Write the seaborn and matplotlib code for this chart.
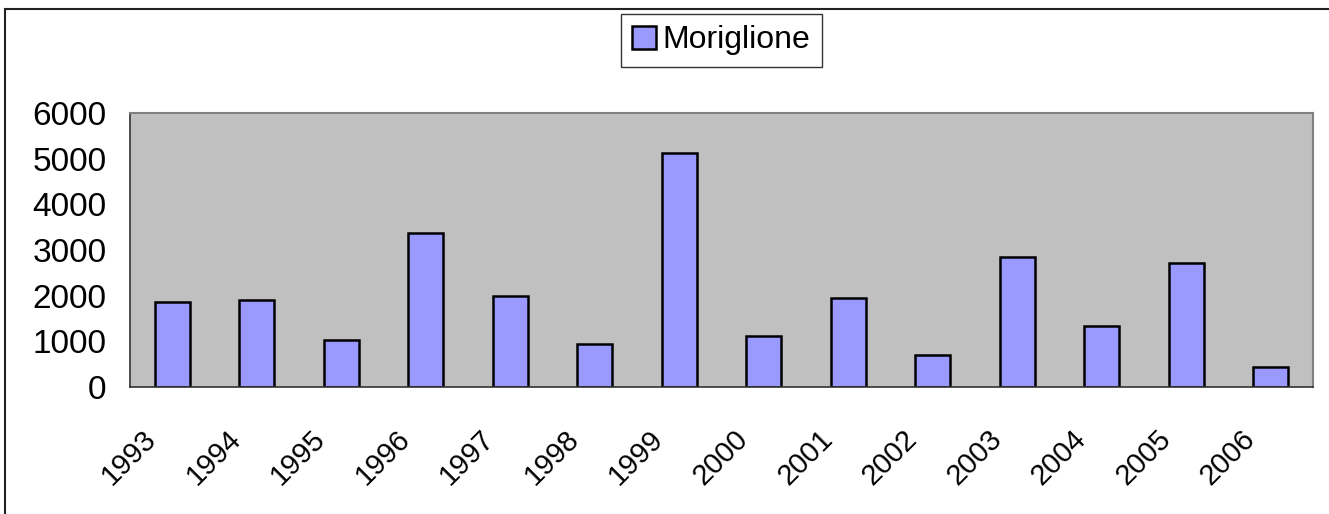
import numpy as np
import pandas as pd
import seaborn as sns
import matplotlib.pyplot as plt
import matplotlib.transforms as mtransforms
from matplotlib.patches import Rectangle

# Data
years = ["1993", "1994", "1995", "1996", "1997", "1998", "1999",
         "2000", "2001", "2002", "2003", "2004", "2005", "2006"]
values = [1860, 1905, 1035, 3365, 1990, 940, 5135,
          1120, 1950, 700, 2845, 1335, 2720, 440]
series_name = "Moriglione"

sns.set_style("white")
plt.rcParams["font.family"] = ["Liberation Sans", "DejaVu Sans"]
plt.rcParams["text.color"] = "black"
plt.rcParams["xtick.labelcolor"] = "black"
plt.rcParams["ytick.labelcolor"] = "black"

df = pd.DataFrame({"year": years, "value": values})

fig = plt.figure(figsize=(13.29, 5.14), dpi=100)
ax = fig.add_axes([0.0978, 0.247, 0.8902, 0.533])

sns.barplot(data=df, x="year", y="value", color="#9999FF", saturation=1,
            edgecolor="black", linewidth=1.8, width=0.41, label=series_name, ax=ax)

ax.set_facecolor("#C0C0C0")
ax.set_xlim(-0.5, len(years) - 0.5)
ax.set_ylim(0, 6000)
ax.set_yticks(np.arange(0, 6001, 1000))
ax.set_xlabel("")
ax.set_ylabel("")

# tick marks at category boundaries, labels at centres
ax.set_xticks(np.arange(-0.5, len(years), 1), minor=True)
ax.tick_params(axis="x", which="minor", direction="out", length=10, width=1, color="#333333")
ax.tick_params(axis="x", which="major", length=0, pad=20, labelsize=21, labelcolor="black")
ax.tick_params(axis="y", direction="out", length=12, width=1, color="#333333",
               labelsize=24, pad=5, labelcolor="black")
shift = mtransforms.ScaledTranslation(-0.30, -0.10, fig.dpi_scale_trans)
for lab in ax.get_xticklabels():
    lab.set_rotation(45)
    lab.set_ha("right")
    lab.set_rotation_mode("anchor")
    lab.set_transform(lab.get_transform() + shift)

for side in ["top", "right"]:
    ax.spines[side].set_color("#808080")
    ax.spines[side].set_linewidth(1.5)
for side in ["left", "bottom"]:
    ax.spines[side].set_color("#333333")
    ax.spines[side].set_linewidth(1.2)

leg = ax.legend(loc="center", bbox_to_anchor=(0.5, 1.265), fontsize=23,
                frameon=True, fancybox=False, handlelength=0.75, handleheight=0.75,
                handletextpad=0.2, borderpad=0.35, borderaxespad=0)
leg.get_frame().set_edgecolor("black")
leg.get_frame().set_linewidth(1)
for t in leg.get_texts():
    t.set_color("black")

# outer chart border
fig.patches.append(Rectangle((5 / 1329, -0.1), 1.2, 1 - 9 / 514 + 0.1,
                             transform=fig.transFigure, fill=False,
                             edgecolor="#222222", linewidth=1.5))

fig.savefig("out.png", dpi=100)
